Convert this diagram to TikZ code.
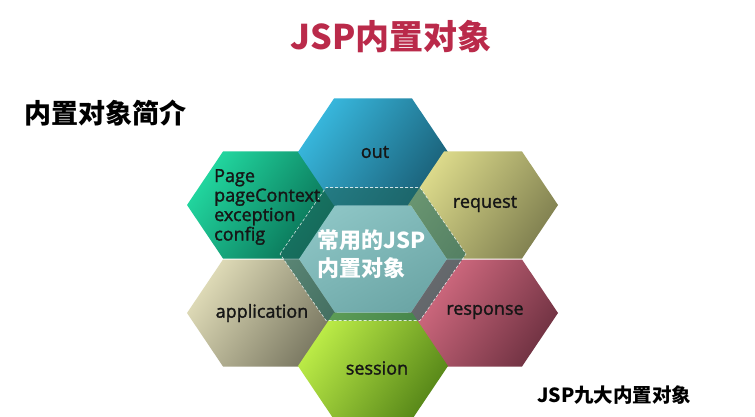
\documentclass[tikz,border=0pt]{standalone}
\usepackage{fontspec}
\setmainfont{Open Sans}
\newfontfamily\labelfont[FakeBold=1.6]{Open Sans}
\newfontfamily\cjk{Noto Sans CJK SC}
\newcommand\hexagonpath[5]{({#1-#3},#2) -- ({#1-#4},{#2-#5}) -- ({#1+#4},{#2-#5}) -- ({#1+#3},#2) -- ({#1+#4},{#2+#5}) -- ({#1-#4},{#2+#5}) -- cycle}
\definecolor{outA}{RGB}{56,184,222}
\definecolor{outB}{RGB}{26,96,120}
\definecolor{pageA}{RGB}{34,216,160}
\definecolor{pageB}{RGB}{8,108,82}
\definecolor{reqA}{RGB}{222,220,140}
\definecolor{reqB}{RGB}{128,128,80}
\definecolor{resA}{RGB}{216,110,132}
\definecolor{resB}{RGB}{112,50,66}
\definecolor{appA}{RGB}{224,220,184}
\definecolor{appB}{RGB}{120,118,96}
\definecolor{sesA}{RGB}{190,238,72}
\definecolor{sesB}{RGB}{86,134,24}
\definecolor{cenA}{RGB}{140,196,196}
\definecolor{cenB}{RGB}{108,166,166}
\definecolor{ringcol}{RGB}{30,104,96}
\definecolor{titlecol}{RGB}{186,42,74}
\definecolor{labelcol}{RGB}{22,22,22}
\tikzset{
  hexshade/.style 2 args={top color=#1, bottom color=#2, shading angle=55},
  hexlabel/.style={font=\labelfont\fontsize{18}{22}\selectfont, text=labelcol, inner sep=0pt},
}
\begin{document}
\begin{tikzpicture}[x=1pt,y=-1pt]
\useasboundingbox (0,0) rectangle (755,417);
\fill[white] (0,0) rectangle (755,417);
% outer hexagons
\shade[hexshade={pageA}{pageB}] \hexagonpath{262}{205}{75}{39}{53.5};
\shade[hexshade={appA}{appB}] \hexagonpath{262}{313}{75}{39}{53.5};
\shade[hexshade={outA}{outB}] \hexagonpath{373}{152}{75}{39}{53.5};
\shade[hexshade={reqA}{reqB}] \hexagonpath{483}{205}{75}{39}{53.5};
\shade[hexshade={resA}{resB}] \hexagonpath{483}{313}{75}{39}{53.5};
\shade[hexshade={sesA}{sesB}] \hexagonpath{373}{366}{75}{39}{53.5};
% ring and center
\fill[ringcol, opacity=.6, even odd rule] \hexagonpath{373}{254}{93}{47}{66.5} \hexagonpath{373}{259}{74}{38}{53.5};
\shade[top color=cenA, bottom color=cenB, shading angle=30] \hexagonpath{373}{259}{74}{38}{53.5};
\draw[white, opacity=.8, line width=0.6pt, dash pattern=on 3pt off 2pt] \hexagonpath{373}{254}{93}{47}{66.5};
% labels
\node[hexlabel] (out) at (375,152) {out};
\node[hexlabel] (request) at (485,204) {request};
\node[hexlabel] (response) at (485,312) {response};
\node[hexlabel] (session) at (377,368) {session};
\node[hexlabel] (application) at (262,313) {application};
\node[hexlabel, anchor=west, align=left, font=\labelfont\fontsize{18}{19.5}\selectfont] (page) at (214,207) {Page\\pageContext\\exception\\config};
\node[anchor=west, align=left, text=white, inner sep=0pt, font=\cjk\bfseries\fontsize{22}{28}\selectfont] (center) at (317,254) {常用的JSP\\内置对象};
% titles
\node[text=titlecol, inner sep=0pt, font=\cjk\bfseries\fontsize{34}{40}\selectfont] (title) at (391,37) {JSP内置对象};
\node[anchor=west, inner sep=0pt, font=\cjk\bfseries\fontsize{27}{31}\selectfont] (intro) at (24,113) {内置对象简介};
\node[anchor=west, inner sep=0pt, font=\cjk\bfseries\fontsize{19.5}{24}\selectfont] (nine) at (537,395) {JSP九大内置对象};
\end{tikzpicture}
\end{document}
